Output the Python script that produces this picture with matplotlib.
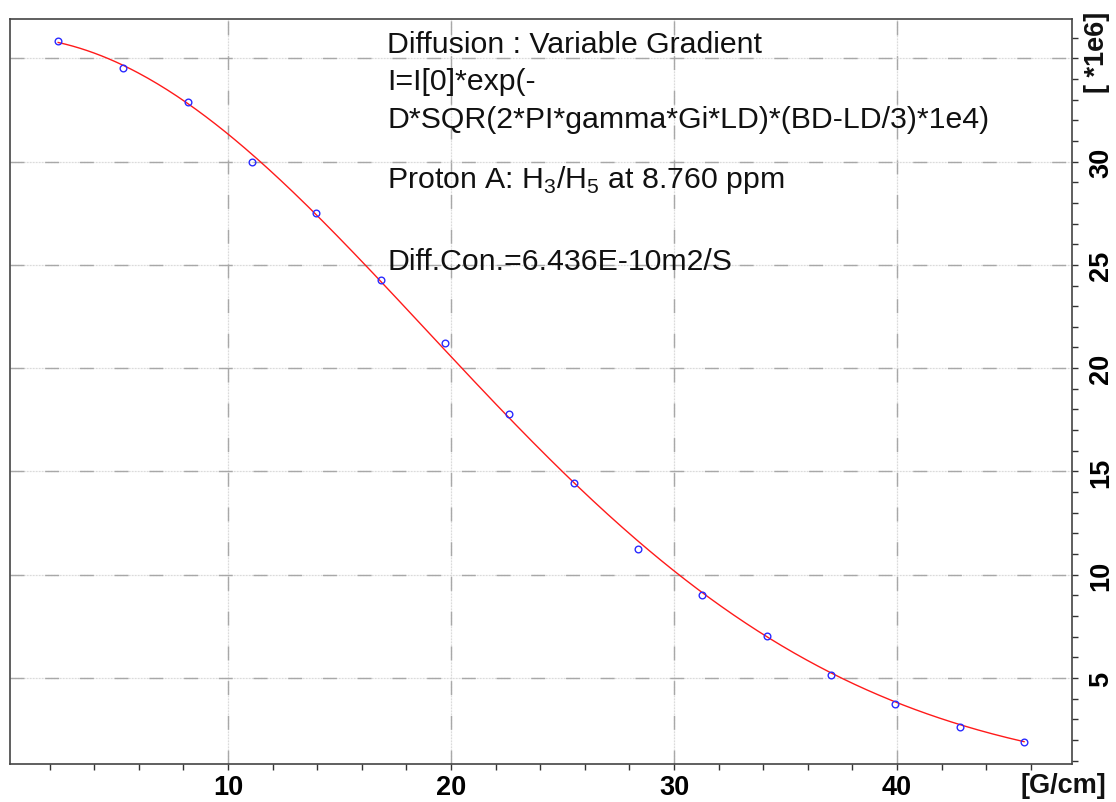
import numpy as np
import matplotlib
matplotlib.use("Agg")
import matplotlib.pyplot as plt
from matplotlib.ticker import MultipleLocator, FixedLocator

# Gradient strength [G/cm] and integrated intensity [*1e6]
gradient = [2.38, 5.29, 8.21, 11.08, 13.95, 16.86, 19.73, 22.60,
            25.52, 28.39, 31.26, 34.17, 37.04, 39.91, 42.83, 45.70]
intensity = [35.83, 34.52, 32.89, 29.99, 27.50, 24.27, 21.22, 17.79,
             14.44, 11.25, 9.02, 7.04, 5.15, 3.75, 2.64, 1.91]

# Stejskal-Tanner fit: I = I0 * exp(-k * G^2)
fit_I0 = 36.05
fit_k = 1.404e-3

x_ticks = [10, 20, 30, 40]
y_ticks = [5, 10, 15, 20, 25, 30]
y_grid = [5, 10, 15, 20, 25, 30, 35]

info_lines = [
    ("Diffusion : Variable Gradient", 53),
    ("I=I[0]*exp(-", 90),
    ("D*SQR(2*PI*gamma*Gi*LD)*(BD-LD/3)*1e4)", 128),
    (r"Proton A: H$_3$/H$_5$ at 8.760 ppm", 188),
    ("Diff.Con.=6.436E-10m2/S", 270),
]

W, H = 1116, 803
fig = plt.figure(figsize=(W / 100, H / 100), dpi=100)
plt.rcParams['font.family'] = ['Liberation Sans', 'DejaVu Sans']
plt.rcParams['mathtext.fontset'] = 'custom'
plt.rcParams['mathtext.rm'] = 'Liberation Sans'

left, right, top, bottom = 10, 1072, 20, 765
ax = fig.add_axes([left / W, 1 - bottom / H, (right - left) / W, (bottom - top) / H])

ax.set_xlim(0.22, 47.85)
ax.set_ylim(0.84, 36.9)

# grid: fine light dots plus longer grey dashes
for xv in x_ticks:
    ax.axvline(xv, color='#d0d0d0', lw=0.9, ls=(0, (0.6, 0.6)), zorder=0)
    ax.axvline(xv, color='#a8a8a8', lw=1.0, ls=(0, (10, 15)), zorder=0)
for yv in y_grid:
    ax.axhline(yv, color='#d0d0d0', lw=0.9, ls=(0, (0.6, 0.6)), zorder=0)
    ax.axhline(yv, color='#a8a8a8', lw=1.0, ls=(0, (10, 15)), zorder=0)

g = np.linspace(gradient[0], gradient[-1], 400)
ax.plot(g, fit_I0 * np.exp(-fit_k * g ** 2), color='#ff1a1a', lw=1.0, zorder=2)
ax.plot(gradient, intensity, ls='none', marker='o', ms=4.8, mfc='none',
        mec='#2a2aff', mew=1.0, zorder=3)

for s in ax.spines.values():
    s.set_color('#444444')
    s.set_linewidth(1.2)

ax.xaxis.set_major_locator(FixedLocator(x_ticks))
ax.xaxis.set_minor_locator(MultipleLocator(2))
ax.yaxis.set_major_locator(FixedLocator(y_ticks))
ax.yaxis.set_minor_locator(MultipleLocator(1))
ax.yaxis.tick_right()
ax.tick_params(axis='both', which='both', direction='out', length=4.5,
               width=1.0, color='#333333')
ax.tick_params(axis='x', which='major', pad=3, labelsize=19.5)
ax.tick_params(axis='y', which='major', pad=7, labelsize=19.5, labelrotation=90)
for lab in ax.get_xticklabels() + ax.get_yticklabels():
    lab.set_fontweight('bold')
for lab in ax.get_yticklabels():
    lab.set_va('center')

fig.text(1063 / W, 1 - 786 / H, "[G/cm]", ha='center', va='center',
         fontsize=19.5, fontweight='bold', color='#111111')
fig.text(1097 / W, 1 - 52 / H, "[ *1e6]", ha='center', va='center',
         rotation=90, fontsize=19.5, fontweight='bold', color='#111111')

for txt, base in info_lines:
    fig.text(387 / W, 1 - base / H, txt, ha='left', va='baseline',
             fontsize=21.8, color='#111111')

fig.savefig("out.png", dpi=100)
